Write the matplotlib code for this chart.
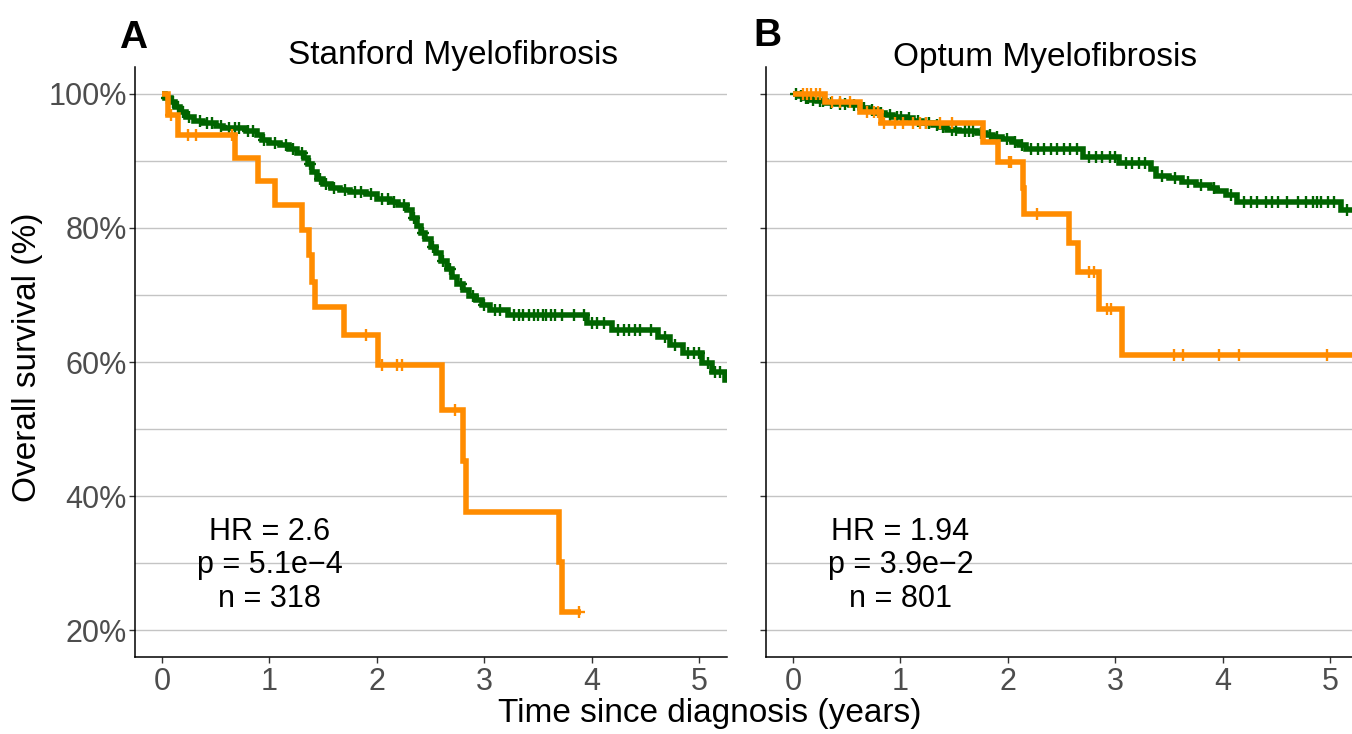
import numpy as np
import matplotlib
matplotlib.use("Agg")
import matplotlib.pyplot as plt

plt.rcParams['font.family'] = ['Liberation Sans', 'DejaVu Sans']

# ---------------- data ----------------
# Panel A: Stanford Myelofibrosis
a_green_times = [0.03, 0.08, 0.12, 0.17, 0.22, 0.30, 0.38, 0.50, 0.57, 0.78, 0.88, 0.93, 1.00, 1.10, 1.18,
                 1.26, 1.32, 1.36, 1.40, 1.44, 1.50, 1.57, 1.66, 1.75, 1.90, 2.00, 2.12, 2.20, 2.28, 2.33,
                 2.37, 2.41, 2.45, 2.50, 2.55, 2.60, 2.65, 2.70, 2.75, 2.80, 2.86, 2.92, 2.98, 3.05, 3.22,
                 3.96, 4.19, 4.62, 4.73, 4.85, 5.03, 5.12, 5.24]
a_green_surv = [99.4, 98.8, 98.0, 97.3, 96.6, 96.0, 95.6, 95.2, 94.9, 94.4, 93.8, 93.1, 92.6, 92.3, 91.8,
                91.2, 90.5, 89.5, 88.3, 87.3, 86.6, 86.0, 85.6, 85.3, 85.0, 84.3, 83.9, 83.4, 82.7, 81.5,
                80.3, 79.3, 78.3, 77.2, 76.2, 75.0, 73.8, 72.7, 71.7, 70.7, 69.9, 69.2, 68.5, 67.8, 67.0,
                65.8, 64.8, 63.7, 62.5, 61.3, 59.9, 58.5, 57.3]
a_green_end = 5.35
a_green_censor = [0.05, 0.10, 0.15, 0.20, 0.25, 0.35, 0.42, 0.47, 0.55, 0.62, 0.68, 0.72, 0.80, 0.85, 0.95,
                  1.05, 1.15, 1.22, 1.30, 1.38, 1.47, 1.53, 1.60, 1.70, 1.80, 1.85, 1.95, 2.05, 2.10, 2.16,
                  2.25, 2.35, 2.43, 2.52, 2.62, 2.68, 2.78, 2.90, 3.00, 3.10, 3.15, 3.28, 3.32, 3.36, 3.42,
                  3.46, 3.50, 3.55, 3.58, 3.62, 3.66, 3.72, 3.84, 3.93, 4.00, 4.05, 4.12, 4.25, 4.30, 4.35,
                  4.40, 4.45, 4.55, 4.68, 4.78, 4.90, 4.95, 5.00, 5.08, 5.15, 5.20]

a_orange_times = [0.06, 0.15, 0.68, 0.89, 1.05, 1.30, 1.37, 1.40, 1.42, 1.69, 2.01, 2.61, 2.80, 2.83, 3.70, 3.72]
a_orange_surv = [96.9, 93.8, 90.4, 87.0, 83.4, 79.7, 75.9, 72.0, 68.2, 64.0, 59.5, 52.9, 45.2, 37.7, 30.2, 22.7]
a_orange_end = 3.90
a_orange_censor = [0.08, 0.24, 0.32, 0.65, 1.90, 2.05, 2.19, 2.23, 2.73, 3.88]

# Panel B: Optum Myelofibrosis
b_green_times = [0.05, 0.10, 0.16, 0.22, 0.31, 0.40, 0.53, 0.62, 0.70, 0.78, 0.86, 0.93, 1.05, 1.12, 1.20,
                 1.30, 1.37, 1.43, 1.55, 1.71, 1.80, 1.86, 1.95, 2.04, 2.10, 2.17, 2.70, 3.04, 3.33, 3.38,
                 3.50, 3.62, 3.75, 3.88, 3.95, 4.03, 4.13, 5.10]
b_green_surv = [99.7, 99.4, 99.1, 98.9, 98.7, 98.5, 98.3, 97.9, 97.6, 97.2, 96.9, 96.6, 96.4, 96.0, 95.7,
                95.4, 95.0, 94.6, 94.4, 94.2, 93.9, 93.6, 93.2, 92.8, 92.3, 91.7, 90.6, 89.7, 88.8, 87.8,
                87.4, 86.9, 86.4, 86.0, 85.5, 84.9, 83.9, 82.7]
b_green_end = 5.35
b_green_censor = [0.03, 0.07, 0.12, 0.14, 0.19, 0.25, 0.28, 0.35, 0.44, 0.48, 0.57, 0.66, 0.74, 0.82, 0.90,
                  0.97, 1.01, 1.08, 1.16, 1.24, 1.27, 1.34, 1.40, 1.48, 1.52, 1.60, 1.64, 1.68, 1.75, 1.83,
                  1.90, 1.99, 2.07, 2.13, 2.22, 2.28, 2.34, 2.40, 2.46, 2.52, 2.58, 2.64, 2.76, 2.82, 2.88,
                  2.95, 3.00, 3.10, 3.16, 3.22, 3.28, 3.44, 3.56, 3.68, 3.80, 3.92, 4.08, 4.20, 4.26, 4.32,
                  4.40, 4.46, 4.52, 4.60, 4.70, 4.78, 4.84, 4.88, 4.92, 4.98, 5.04, 5.16, 5.22]

b_orange_times = [0.30, 0.62, 0.82, 1.77, 1.91, 2.14, 2.15, 2.57, 2.65, 2.85, 3.06]
b_orange_surv = [98.8, 97.3, 95.7, 92.8, 89.9, 86.0, 82.1, 77.8, 73.4, 67.9, 61.0]
b_orange_end = 5.35
b_orange_censor = [0.09, 0.13, 0.17, 0.21, 0.25, 0.36, 0.44, 0.53, 0.69, 0.75, 0.79, 0.85, 0.95, 1.02,
                   1.12, 1.18, 1.24, 1.37, 1.48, 2.01, 2.03, 2.27, 2.76, 2.80, 2.92, 2.96,
                   3.55, 3.63, 3.97, 4.15, 4.97]

titles = ["Stanford Myelofibrosis", "Optum Myelofibrosis"]
panel_letters = ["A", "B"]
stats_a = ["HR = 2.6", "p = 5.1e\u22124", "n = 318"]
stats_b = ["HR = 1.94", "p = 3.9e\u22122", "n = 801"]
y_ticks = [20, 40, 60, 80, 100]
y_ticklabels = ["20%", "40%", "60%", "80%", "100%"]
x_ticks = [0, 1, 2, 3, 4, 5]

GREEN = "#006400"
ORANGE = "#FF8C00"

W, H = 1352, 734
fig = plt.figure(figsize=(W / 100, H / 100), dpi=100)


def surv_at(times, survs, t):
    idx = np.searchsorted(np.asarray(times), np.asarray(t), side="right") - 1
    s = np.asarray(survs)
    return np.where(idx < 0, 100.0, s[np.clip(idx, 0, None)])


def draw_curve(ax, times, survs, end, censor, color, z):
    x = [0.0] + list(times) + [end]
    y = [100.0] + list(survs) + [survs[-1]]
    ax.plot(x, y, drawstyle="steps-post", color=color, lw=4.0, zorder=z,
            solid_joinstyle="miter", solid_capstyle="butt")
    ax.plot(censor, surv_at(times, survs, censor), linestyle="none", marker="+",
            markersize=9, markeredgewidth=1.7, color=color, zorder=z + 0.5)


def px_ax(left_px, right_px):
    return [left_px / W, (H - 657) / H, (right_px - left_px) / W, 590 / H]


axA = fig.add_axes(px_ax(135, 727))
axB = fig.add_axes(px_ax(766, 1358))

curves = [
    (axA, (a_green_times, a_green_surv, a_green_end, a_green_censor),
     (a_orange_times, a_orange_surv, a_orange_end, a_orange_censor), stats_a),
    (axB, (b_green_times, b_green_surv, b_green_end, b_green_censor),
     (b_orange_times, b_orange_surv, b_orange_end, b_orange_censor), stats_b),
]

for i, (ax, g, o, stats) in enumerate(curves):
    ax.set_xlim(-0.2514, 5.2607)
    ax.set_ylim(16, 104)
    for yy in range(20, 101, 10):
        ax.axhline(yy, color="#c4c4c4", lw=1.0, zorder=0)
    draw_curve(ax, *g, GREEN, 2)
    draw_curve(ax, *o, ORANGE, 3)
    for sp in ["top", "right"]:
        ax.spines[sp].set_visible(False)
    for sp in ["left", "bottom"]:
        ax.spines[sp].set_linewidth(1.1)
        ax.spines[sp].set_color("black")
    ax.set_xticks(x_ticks)
    ax.set_xticklabels([str(v) for v in x_ticks])
    ax.set_yticks(y_ticks)
    if i == 0:
        ax.set_yticklabels(y_ticklabels)
    else:
        ax.set_yticklabels([])
    ax.tick_params(axis="both", length=4, width=1.0, color="#333333",
                   labelsize=22, labelcolor="#4d4d4d")
    ax.tick_params(axis="x", pad=3)
    ax.tick_params(axis="y", pad=2)
    ax.set_facecolor("white")
    for txt, yv in zip(stats, [33.4, 28.5, 23.4]):
        ax.text(1.0, yv, txt, ha="center", va="baseline", fontsize=22, color="black")

# titles & letters
fig.text(453 / W, (H - 64) / H, titles[0], ha="center", va="baseline", fontsize=24)
fig.text(1045 / W, (H - 66) / H, titles[1], ha="center", va="baseline", fontsize=24)
fig.text(119 / W, (H - 48) / H, panel_letters[0], ha="left", va="baseline", fontsize=28, fontweight="bold")
fig.text(753 / W, (H - 46) / H, panel_letters[1], ha="left", va="baseline", fontsize=28, fontweight="bold")

# axis labels
fig.text(710 / W, (H - 722) / H, "Time since diagnosis (years)", ha="center", va="baseline", fontsize=24)
fig.text(28 / W, (H - 357) / H, "Overall survival (%)", ha="center", va="center",
         rotation=90, fontsize=24)

fig.savefig("out.png", dpi=100, facecolor="white")
